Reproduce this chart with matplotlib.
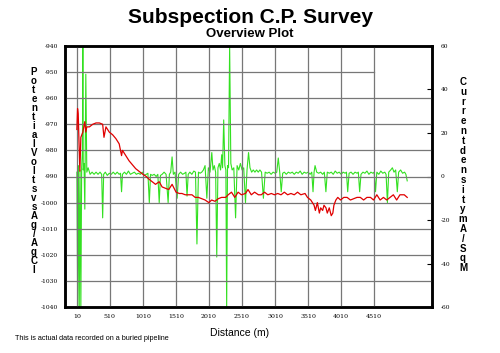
import matplotlib
matplotlib.use("Agg")
import matplotlib.pyplot as plt
import numpy as np

# potential (mV vs Ag/AgCl) along the line
red_d = [10, 20, 30, 40, 55, 70, 85, 100, 130, 145,
         160, 200, 250, 300, 350, 400, 420, 450, 500, 550,
         600, 650, 686, 700, 750, 800, 850, 900, 950, 1000,
         1060, 1100, 1150, 1200, 1256, 1300, 1350, 1400, 1451, 1511,
         1560, 1600, 1650, 1700, 1752, 1800, 1850, 1900, 1950, 2007,
         2050, 2100, 2150, 2200, 2262, 2300, 2350, 2400, 2450, 2500,
         2562, 2600, 2650, 2700, 2757, 2800, 2850, 2900, 2953, 3000,
         3050, 3100, 3150, 3200, 3250, 3300, 3350, 3400, 3463, 3500,
         3550, 3600, 3620, 3650, 3680, 3700, 3730, 3750, 3780, 3800,
         3830, 3860, 3884, 3900, 3930, 3959, 4000, 4050, 4100, 4150,
         4200, 4250, 4300, 4350, 4400, 4454, 4500, 4550, 4600, 4650,
         4700, 4750, 4800, 4850, 4900, 4965, 5010]
red_v = [-972, -964, -966, -975, -988, -975, -974, -973, -969, -973,
         -971, -971, -970, -969.5, -969.5, -970, -975, -971, -973, -974,
         -975.5, -977.5, -982, -980, -982, -984, -985.5, -987, -988, -989,
         -990, -991, -992, -993, -992, -994, -994.5, -995, -993, -996,
         -996.5, -996.5, -997, -997, -997, -998, -998, -998.5, -999, -1000,
         -999, -999.5, -998.5, -998, -998, -997, -996, -998, -996, -997,
         -996.5, -995, -997, -996, -997, -997, -996, -997, -996.5, -997,
         -996.5, -997, -996, -997, -996.5, -997, -996, -997, -996.5, -998,
         -999, -1001, -1003, -1000, -1004, -1002, -1003, -1001, -1002, -1004,
         -1002, -1005, -1004, -1001, -999, -998, -999, -998, -998, -999,
         -998.5, -998, -998, -999, -998, -998, -999, -997, -999, -998,
         -999, -998, -997, -999, -997, -997, -998]

# current density (mA/SqM)
green_d = [10, 22, 34, 46, 58, 70, 82, 94, 100, 106,
           118, 130, 145, 160, 180, 210, 240, 270, 300, 330,
           360, 385, 400, 415, 440, 470, 500, 530, 560, 590,
           620, 650, 670, 686, 700, 730, 760, 790, 820, 850,
           880, 910, 940, 970, 1000, 1030, 1060, 1085, 1106, 1125,
           1150, 1180, 1210, 1235, 1256, 1275, 1300, 1330, 1360, 1391,
           1410, 1430, 1451, 1470, 1495, 1527, 1550, 1580, 1610, 1640,
           1660, 1677, 1695, 1720, 1750, 1780, 1805, 1827, 1850, 1875,
           1900, 1925, 1950, 1977, 2000, 2025, 2052, 2070, 2090, 2110,
           2127, 2145, 2165, 2185, 2202, 2215, 2232, 2250, 2265, 2277,
           2290, 2305, 2322, 2340, 2360, 2385, 2412, 2435, 2460, 2485,
           2510, 2535, 2562, 2585, 2608, 2630, 2655, 2680, 2705, 2730,
           2755, 2780, 2805, 2833, 2860, 2890, 2920, 2950, 2980, 3010,
           3035, 3058, 3080, 3103, 3125, 3150, 3180, 3210, 3240, 3270,
           3300, 3330, 3360, 3390, 3420, 3450, 3480, 3510, 3540, 3565,
           3584, 3600, 3615, 3640, 3670, 3700, 3730, 3755, 3779, 3800,
           3830, 3860, 3890, 3920, 3950, 3980, 4010, 4040, 4070, 4090,
           4109, 4130, 4160, 4190, 4220, 4250, 4270, 4290, 4310, 4340,
           4370, 4400, 4430, 4460, 4490, 4510, 4530, 4550, 4580, 4610,
           4640, 4670, 4690, 4710, 4730, 4760, 4785, 4810, 4835, 4860,
           4880, 4910, 4940, 4970, 4990, 5010]
green_v = [2, -60, 5, -60, 3, -60, 4, 12, 60, 3,
           6, -15, 47, 2, 4, 1, 2, 1, 2, 1,
           2, 1, -19, 1, 2, 0.5, 1.5, 1, 2, 1,
           2, 1, 1.5, -7, 1, 2, 1, 2.5, 1, 1.5,
           2, 1, 1.5, 1, 2, 0.5, 1, 1.5, -12, 1,
           0.5, 1, 0, 1, -12, 0.5, 1, 2, 1, -12,
           1, 2, 9, 1, 2, -10, 1, 2, 1, 1.5,
           2, -9, 1, 2, 1, 2.5, 2, -31, 2, 1.5,
           2, 3, 5, -10, 4, 2, 11, 3, 5, 2,
           -37, 4, 6, 3, 10, 4, 26, 5, 3, -60,
           5, 4, 60, 6, 3, 4, -19, 5, 3, 6,
           3, 4, -12, 3, 11, 4, 2, 3, 2, 3,
           2, 3, 2, -10, 2, 1.5, 2, 1, 2, 1.5,
           2, 8.5, 2, -7, 1.5, 2, 1, 2, 1.5, 2,
           1, 2, 1.5, 2.5, 1, 2, 1.5, 2, 1, 2,
           -7, 2, 5, 2, 1.5, 2, 1, 2, -7, 2,
           1.5, 2, 1, 2.5, 1.5, 2, 1, 2, 1.5, 2,
           -7, 1.5, 2, 1, 2, 1.5, 2, -7, 1, 2,
           1.5, 2.5, 1, 2, 1.5, 2, -7, 2, 1, 2.5,
           1.5, 2, 1, -12, 2, 3, 4, 2, 3, -7,
           2, 3, 1.5, 2, 1, -2]

x_ticks = [10, 510, 1010, 1510, 2010, 2510, 3010, 3510, 4010, 4510]
left_ticks = list(range(-940, -1041, -10))
right_ticks = [60, 40, 20, 0, -20, -40, -60]

fig = plt.figure(figsize=(5.0, 3.53), dpi=100)
ax = fig.add_axes([0.13, 0.13, 0.734, 0.74])
ax2 = ax.twinx()

ax.set_xlim(-170, 5385)
ax.set_ylim(-1040, -940)
ax2.set_ylim(-60, 60)

# grid (the -950 line stops at the last labelled distance)
for xv in x_ticks:
    ax.axvline(xv, color="#777777", lw=0.9, zorder=0)
for yv in left_ticks:
    if yv == -950:
        ax.plot([-170, 4510], [yv, yv], color="#777777", lw=0.9, zorder=0)
    else:
        ax.axhline(yv, color="#777777", lw=0.9, zorder=0)

ax2.plot(green_d, green_v, color="#33e021", lw=0.8, zorder=2)
ax.plot(red_d, red_v, color="#e00000", lw=0.9, zorder=3)
ax.set_zorder(ax2.get_zorder() + 1)
ax.patch.set_visible(False)

ax.set_xticks(x_ticks)
ax.set_xticklabels([str(v) for v in x_ticks], family="DejaVu Serif", fontsize=4.5)
ax.set_yticks(left_ticks)
ax.set_yticklabels([str(v) for v in left_ticks], family="DejaVu Serif", fontsize=4.3)
ax.tick_params(axis="y", length=0, pad=5)
ax.tick_params(axis="x", length=0, pad=5)

ax2.set_yticks(right_ticks)
ax2.set_yticklabels([str(v) for v in right_ticks], family="DejaVu Serif", fontsize=4.3)
ax2.tick_params(axis="y", which="major", direction="in", length=3.5, pad=6)

for a in (ax, ax2):
    for s in a.spines.values():
        s.set_linewidth(1.8)
        s.set_color("black")

fig.text(0.5, 0.935, "Subspection C.P. Survey", ha="center", va="baseline",
         fontsize=15, fontweight="bold", family="Liberation Sans")
fig.text(0.5, 0.895, "Overview Plot", ha="center", va="baseline",
         fontsize=9.5, fontweight="bold", family="Liberation Sans")

left_lbl = "PotentialVoltsvsAg/AgCl"
for i, ch in enumerate(left_lbl):
    fig.text(34 / 500, 1 - (72 + i * 9.0) / 353, ch, ha="center", va="center",
             fontsize=7, fontweight="bold", family="Liberation Sans")
right_lbl = "CurrentdensitymA/SqM"
for i, ch in enumerate(right_lbl):
    fig.text(463 / 500, 1 - (82 + i * 9.8) / 353, ch, ha="center", va="center",
             fontsize=7, fontweight="bold", family="Liberation Sans")

fig.text(240 / 500, 1 - 333 / 353, "Distance (m)", ha="center", va="center",
         fontsize=7.5, family="Liberation Sans")
fig.text(15 / 500, 1 - 339 / 353, "This is actual data recorded on a buried pipeline",
         ha="left", va="center", fontsize=5.2, family="Liberation Sans")

fig.savefig("out.png", dpi=100)
